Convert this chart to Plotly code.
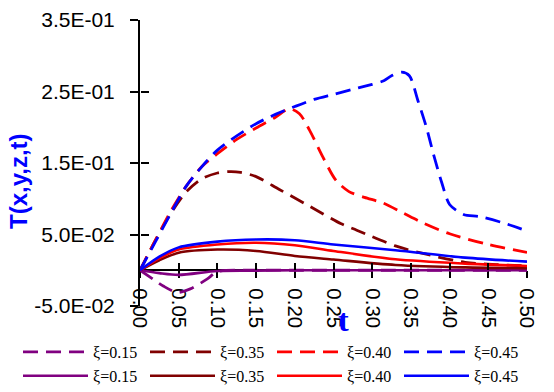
import plotly.graph_objects as go

# ---- data ----
t_d015 = [0, 0.017, 0.03, 0.048, 0.065, 0.0865, 0.10, 0.15, 0.20, 0.30, 0.40, 0.50]
T_d015 = [0, -0.0125, -0.022, -0.031, -0.026, -0.0125, -0.002, 0, 0, 0, 0, 0]

t_d035 = [0, 0.02, 0.04, 0.06, 0.08, 0.10, 0.115, 0.13, 0.15, 0.18, 0.22, 0.26, 0.28, 0.33, 0.36, 0.42, 0.46, 0.50]
T_d035 = [0, 0.042, 0.080, 0.110, 0.128, 0.136, 0.138, 0.137, 0.131, 0.113, 0.089, 0.065, 0.056, 0.034, 0.025, 0.011, 0.008, 0.006]

t_d040 = [0, 0.02, 0.04, 0.06, 0.08, 0.10, 0.125, 0.15, 0.175, 0.193, 0.206, 0.219, 0.236, 0.253, 0.27, 0.29, 0.314, 0.34, 0.366, 0.40, 0.45, 0.50]
T_d040 = [0, 0.042, 0.083, 0.118, 0.145, 0.163, 0.183, 0.199, 0.214, 0.226, 0.219, 0.196, 0.159, 0.126, 0.110, 0.102, 0.094, 0.080, 0.066, 0.051, 0.036, 0.025]

t_d045 = [0, 0.02, 0.04, 0.06, 0.08, 0.10, 0.125, 0.15, 0.175, 0.20, 0.225, 0.25, 0.275, 0.30, 0.315, 0.325, 0.338, 0.348, 0.359, 0.37, 0.379, 0.39, 0.40, 0.418, 0.439, 0.47, 0.50]
T_d045 = [0, 0.040, 0.080, 0.118, 0.145, 0.168, 0.188, 0.205, 0.218, 0.229, 0.239, 0.246, 0.253, 0.260, 0.265, 0.272, 0.277, 0.272, 0.2375, 0.200, 0.163, 0.122, 0.092, 0.078, 0.075, 0.066, 0.055]

t_s = [0, 0.025, 0.05, 0.10, 0.15, 0.20, 0.25, 0.33, 0.42, 0.50]
T_s015 = [0, -0.004, -0.0065, -0.001, -0.0005, 0, 0, 0, 0, 0]
T_s035 = [0, 0.014, 0.0245, 0.029, 0.027, 0.020, 0.015, 0.0074, 0.004, 0.003]
T_s040 = [0, 0.017, 0.029, 0.036, 0.0385, 0.035, 0.027, 0.0153, 0.0093, 0.006]
T_s045 = [0, 0.019, 0.032, 0.040, 0.043, 0.042, 0.036, 0.028, 0.0176, 0.012]

x_ticks = [0, 0.05, 0.10, 0.15, 0.20, 0.25, 0.30, 0.35, 0.40, 0.45, 0.50]
x_ticktext = ["0.00", "0.05", "0.10", "0.15", "0.20", "0.25", "0.30", "0.35", "0.40", "0.45", "0.50"]
y_ticks = [-0.05, 0.05, 0.15, 0.25, 0.35]
y_ticktext = ["-5.0E-02", "5.0E-02", "1.5E-01", "2.5E-01", "3.5E-01"]

labels = ["ξ=0.15", "ξ=0.35", "ξ=0.40", "ξ=0.45"]
colors = ["#800080", "#800000", "#FF0000", "#0000FF"]

dashed = [(t_d015, T_d015), (t_d035, T_d035), (t_d040, T_d040), (t_d045, T_d045)]
solid = [(t_s, T_s015), (t_s, T_s035), (t_s, T_s040), (t_s, T_s045)]

fig = go.Figure()
for (tx, ty), lab, c in zip(dashed, labels, colors):
    fig.add_trace(go.Scatter(x=tx, y=ty, mode="lines", name=lab,
                             line=dict(color=c, width=2.8, dash="15px,8px", shape="spline", smoothing=0.8)))
for (tx, ty), lab, c in zip(solid, labels, colors):
    fig.add_trace(go.Scatter(x=tx, y=ty, mode="lines", name=lab,
                             line=dict(color=c, width=2.6, shape="spline", smoothing=0.8)))
# empty helper trace so the crossing-tick overlay axes are drawn
fig.add_trace(go.Scatter(x=[], y=[], xaxis="x2", yaxis="y2", showlegend=False, hoverinfo="skip"))

ax_common = dict(showgrid=False, zeroline=False, linecolor="black", linewidth=2,
                 tickcolor="black", tickwidth=2, automargin=False)

PL, PT, PW, PH = 140, 20, 387, 286

fig.update_layout(
    width=554, height=392,
    margin=dict(l=PL, r=554 - PL - PW, t=PT, b=392 - PT - PH, autoexpand=False),
    paper_bgcolor="white", plot_bgcolor="white",
    xaxis=dict(range=[0, 0.5], anchor="free", position=0.125, tickmode="array",
               tickvals=x_ticks, ticktext=x_ticktext, tickangle=90, ticks="outside", ticklen=7,
               ticklabelstandoff=6,
               showline=True, layer="below traces",
               tickfont=dict(family="Liberation Sans, Arial", size=20.5, color="black"), **ax_common),
    yaxis=dict(range=[-0.05, 0.35], tickmode="array", tickvals=y_ticks, ticktext=y_ticktext,
               ticks="outside", ticklen=8, ticklabelstandoff=11, showline=True,
               tickfont=dict(family="Liberation Sans, Arial", size=21, color="black"), **ax_common),
    xaxis2=dict(range=[0, 0.5], overlaying="x", anchor="free", position=0.125, tickmode="array",
                tickvals=x_ticks, ticks="inside", ticklen=7, showticklabels=False, showline=False,
                **ax_common),
    yaxis2=dict(range=[-0.05, 0.35], overlaying="y", anchor="free", position=0, side="left",
                tickmode="array", tickvals=y_ticks, ticks="inside", ticklen=8, showticklabels=False,
                showline=False, **ax_common),
    showlegend=True,
    legend=dict(orientation="h", x=(18 - PL) / PW, y=(PT + PH - 335) / PH,
                xanchor="left", yanchor="top", itemwidth=65,
                entrywidth=47, traceorder="normal",
                font=dict(family="Liberation Serif, Times New Roman", size=16, color="black"),
                bgcolor="rgba(0,0,0,0)", tracegroupgap=0),
    annotations=[
        dict(text="<b>T(x,y,z,t)</b>", xref="paper", yref="paper", x=(18 - PL) / PW,
             y=(PT + PH - 181) / PH, xanchor="center", yanchor="middle",
             textangle=-90, showarrow=False,
             font=dict(family="Liberation Sans, Arial", size=24, color="#0000FF")),
        dict(text="<b>t</b>", xref="paper", yref="paper", x=(343 - PL) / PW,
             y=(PT + PH - 320) / PH, xanchor="center", yanchor="middle",
             showarrow=False,
             font=dict(family="Liberation Serif, Times New Roman", size=32, color="#0000FF")),
    ],
)

fig.write_html("out.html", config={"displayModeBar": False},
               post_script="document.body.style.margin='0';")
